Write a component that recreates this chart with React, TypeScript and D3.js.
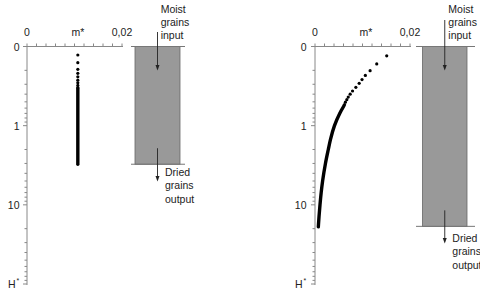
import React from "react";
import * as d3 from "d3";

// ---- data ----
const xTickValues = [0, 0.002, 0.004, 0.006, 0.008, 0.01, 0.012, 0.014, 0.016, 0.018, 0.02];
const xLabels = [
  { v: 0, t: "0" },
  { v: 0.0107, t: "m*" },
  { v: 0.02, t: "0,02" },
];
const yMajor = [0.1, 1, 10, 100];
const yMajorLabels = ["0", "1", "10", "H"];
const yMinor = [0.2, 0.3, 0.4, 0.5, 0.6, 0.7, 0.8, 0.9, 2, 3, 4, 5, 6, 7, 8, 9, 20, 30, 40, 50, 60, 70, 80, 90];

// left panel: constant m*
const leftM = 0.0107;
const leftDotsH = [0.128, 0.16, 0.194, 0.218, 0.241, 0.266, 0.287, 0.31, 0.33];
const leftLineH = [0.34, 3.07];
const leftBedBottomH = 3.07;

// right panel: decreasing m*
const rightDotsH = [0.131, 0.166, 0.202, 0.232, 0.262, 0.292, 0.328, 0.365, 0.4, 0.435, 0.47, 0.505, 0.54];
const rightDotsM = [0.0151, 0.013, 0.0116, 0.0106, 0.0099, 0.0093, 0.0086, 0.0079, 0.0074, 0.007, 0.0067, 0.0064, 0.0062];
const rightLineH = [0.56, 0.7, 1, 1.5, 2, 3, 5, 7, 10, 14, 19];
const rightLineM = [0.0061, 0.0052, 0.0041, 0.00325, 0.0028, 0.0022, 0.0016, 0.0013, 0.00105, 0.00085, 0.0007];
const rightBedBottomH = 18.7;

const FONT = "Liberation Sans, Arial, Helvetica, sans-serif";
const FS = 10.5;

const y = d3.scaleLog().domain([0.1, 100]).range([46.5, 284]);

type PanelProps = {
  x0: number;
  labelRight: number;
  rectX0: number;
  rectX1: number;
  lineX0: number;
  lineX1: number;
  bottomH: number;
  topArrowStart: number;
  topTextX: number;
  botArrowEnd: number;
  botTextX: number;
  botTextY: number;
  dots: [number, number][];
  line: [number, number][];
};

function Panel(p: PanelProps) {
  const x = d3.scaleLinear().domain([0, 0.02]).range([p.x0, p.x0 + 95]);
  const lineGen = d3
    .line<[number, number]>()
    .x((d) => x(d[1]))
    .y((d) => y(d[0]))
    .curve(d3.curveMonotoneY);
  const axisColor = "#888";
  const ax = x(0);
  const cx = (p.rectX0 + p.rectX1) / 2;
  const yTop = y(0.1);
  const yBot = y(p.bottomH);
  return (
    <g>
      {/* top axis */}
      <line x1={x(0)} x2={x(0.02) + 1} y1={yTop} y2={yTop} stroke={axisColor} strokeWidth={1} />
      {xTickValues.map((v, i) => (
        <line key={i} x1={x(v)} x2={x(v)} y1={yTop} y2={yTop - 3} stroke={axisColor} strokeWidth={1} />
      ))}
      {xLabels.map((l, i) => (
        <text key={i} x={x(l.v)} y={36} textAnchor="middle" fontSize={FS} fontFamily={FONT} fill="#222">
          {l.t}
        </text>
      ))}
      {/* left axis */}
      <line x1={ax} x2={ax} y1={yTop} y2={y(100) + 1} stroke={axisColor} strokeWidth={1} />
      {yMajor.map((v, i) => (
        <line key={"M" + i} x1={ax} x2={ax - 4} y1={y(v)} y2={y(v)} stroke={axisColor} strokeWidth={1} />
      ))}
      {yMinor.map((v, i) => (
        <line key={"m" + i} x1={ax} x2={ax - 2.5} y1={y(v)} y2={y(v)} stroke={axisColor} strokeWidth={1} />
      ))}
      {yMajorLabels.map((t, i) => (
        <text
          key={"l" + i}
          x={t === "H" ? p.labelRight - 4 : p.labelRight}
          y={y(yMajor[i]) + 4}
          textAnchor="end"
          fontSize={FS}
          fontFamily={FONT}
          fill="#222"
        >
          {t}
        </text>
      ))}
      <text x={p.labelRight - 3} y={y(100) - 1} fontSize={7} fontFamily={FONT} fill="#222">
        *
      </text>
      {/* data */}
      <path d={lineGen(p.line) || ""} fill="none" stroke="#000" strokeWidth={3.4} strokeLinecap="round" />
      {p.dots.map((d, i) => (
        <circle key={i} cx={x(d[1])} cy={y(d[0])} r={1.6} fill="#000" />
      ))}
      {/* bed */}
      <rect x={p.rectX0} y={yTop} width={p.rectX1 - p.rectX0} height={yBot - yTop} fill="#999" stroke="#666" strokeWidth={0.8} />
      <line x1={p.lineX0} x2={p.lineX1} y1={yTop} y2={yTop} stroke="#777" strokeWidth={1} />
      <line x1={p.lineX0} x2={p.lineX1} y1={yBot} y2={yBot} stroke="#777" strokeWidth={1} />
      {/* arrows */}
      <line x1={cx} x2={cx} y1={p.topArrowStart} y2={66} stroke="#222" strokeWidth={0.9} />
      <path d={`M${cx - 2},${65} L${cx + 2},${65} L${cx},${70.5} Z`} fill="#222" />
      <line x1={cx} x2={cx} y1={yBot - 16} y2={p.botArrowEnd - 4} stroke="#222" strokeWidth={0.9} />
      <path d={`M${cx - 2},${p.botArrowEnd - 5} L${cx + 2},${p.botArrowEnd - 5} L${cx},${p.botArrowEnd + 0.5} Z`} fill="#222" />
      {/* texts */}
      {["Moist", "grains", "input"].map((t, i) => (
        <text key={"ti" + i} x={p.topTextX} y={13 + i * 13} fontSize={FS} fontFamily={FONT} fill="#222">
          {t}
        </text>
      ))}
      {["Dried", "grains", "output"].map((t, i) => (
        <text key={"to" + i} x={p.botTextX} y={p.botTextY + i * 13.3} fontSize={FS} fontFamily={FONT} fill="#222">
          {t}
        </text>
      ))}
    </g>
  );
}

export default function App() {
  const leftDots: [number, number][] = leftDotsH.map((h) => [h, leftM]);
  const leftLine: [number, number][] = leftLineH.map((h) => [h, leftM]);
  const rightDots: [number, number][] = rightDotsH.map((h, i) => [h, rightDotsM[i]]);
  const rightLine: [number, number][] = rightLineH.map((h, i) => [h, rightLineM[i]]);
  return (
    <svg width={480} height={298} style={{ position: "absolute", left: 0, top: 0, background: "#fff" }}>
      <rect x={0} y={0} width={480} height={298} fill="#fff" />
      <Panel
        x0={27}
        labelRight={19.5}
        rectX0={135}
        rectX1={180}
        lineX0={131}
        lineX1={185}
        bottomH={leftBedBottomH}
        topArrowStart={32}
        topTextX={160.7}
        botArrowEnd={181}
        botTextX={165}
        botTextY={176}
        dots={leftDots}
        line={leftLine}
      />
      <Panel
        x0={315}
        labelRight={306.5}
        rectX0={422.5}
        rectX1={467}
        lineX0={416}
        lineX1={475}
        bottomH={rightBedBottomH}
        topArrowStart={20}
        topTextX={448.3}
        botArrowEnd={243}
        botTextX={452.3}
        botTextY={242}
        dots={rightDots}
        line={rightLine}
      />
    </svg>
  );
}
